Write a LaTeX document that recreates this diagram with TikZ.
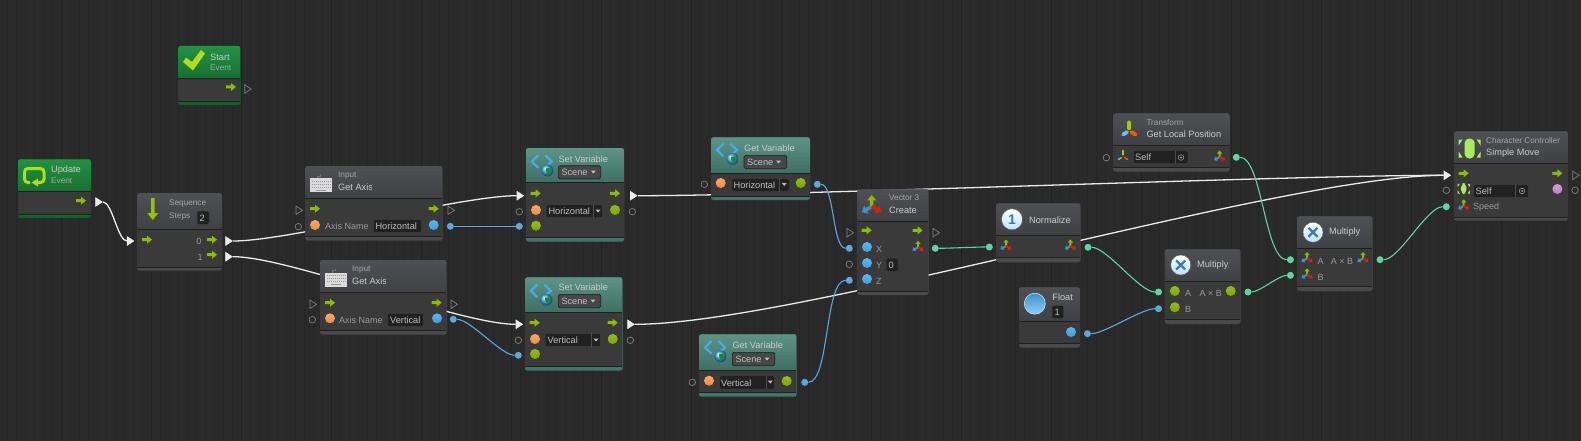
\documentclass[tikz,border=0pt]{standalone}
\usepackage{fontspec}
\setmainfont{Liberation Sans}
\usepackage{xcolor}
\usetikzlibrary{shapes.geometric}

\definecolor{canvasbg}{HTML}{2A2A2A}
\definecolor{gridminor}{HTML}{262626}
\definecolor{gridmajor}{HTML}{212121}
\definecolor{bodybg}{HTML}{3A3A3A}
\definecolor{greytop}{HTML}{4E5054}
\definecolor{greybot}{HTML}{3F4144}
\definecolor{greyfoot}{HTML}{4A4A4A}
\definecolor{greentop}{HTML}{219243}
\definecolor{greenbot}{HTML}{187030}
\definecolor{greenfoot}{HTML}{0C6428}
\definecolor{tealtop}{HTML}{5C9485}
\definecolor{tealbot}{HTML}{3F6F62}
\definecolor{tealfoot}{HTML}{43756A}
\definecolor{flowgreen}{HTML}{8CBC00}
\definecolor{limeicon}{HTML}{B2DC1E}
\definecolor{charlime}{HTML}{A8EC5A}
\definecolor{dotorange}{HTML}{FF9A4D}
\definecolor{dotblue}{HTML}{45ACF0}
\definecolor{dotgreen}{HTML}{86B400}
\definecolor{dotpink}{HTML}{CC8CD8}
\definecolor{wireblue}{HTML}{5AA8DC}
\definecolor{wireteal}{HTML}{5FD3A8}
\definecolor{iconblue}{HTML}{3C78BB}

\tikzset{
    titletxt/.style={anchor=west,inner sep=0pt,text=black!20,font=\fontsize{9.2}{11}\selectfont},
    subtxt/.style={anchor=west,inner sep=0pt,text=black!35,font=\fontsize{8.2}{10}\selectfont},
    porttxt/.style={anchor=west,inner sep=0pt,text=black!40,font=\fontsize{9}{11}\selectfont},
    fieldtxt/.style={anchor=west,inner sep=0pt,text=black!25,font=\fontsize{9.2}{11}\selectfont},
    emptyflow/.style={isosceles triangle,isosceles triangle stretches,draw=black!50,line width=0.7pt,inner sep=0pt,minimum width=8.5pt,minimum height=6.5pt},
    liveflow/.style={emptyflow,draw=black!8,fill=black!8},
    emptyvalue/.style={circle,draw=black!50,line width=0.7pt,inner sep=0pt,minimum size=6.5pt},
    blueport/.style={circle,fill=wireblue,inner sep=0pt,minimum size=7pt},
    tealport/.style={circle,fill=wireteal,inner sep=0pt,minimum size=7pt},
    flowwire/.style={draw=black!8,line width=1.3pt,looseness=0.5},
    bluewire/.style={draw=wireblue,line width=1.1pt,looseness=0.5},
    tealwire/.style={draw=wireteal,line width=1.1pt,looseness=0.5},
    cardbox/.style={rectangle,rounded corners=2.5pt,inner sep=0pt},
    fieldbox/.style={fill=black!87,draw=black!75,line width=0.5pt,rounded corners=1.5pt},
    dropbox/.style={fill=black!72,draw=black!88,line width=0.6pt,rounded corners=1.5pt},
    flowicon/.pic={
        \fill[flowgreen] (-5,-1.5) -- (0,-1.5) -- (0,-4) -- (5,0) -- (0,4) -- (0,1.5) -- (-5,1.5) -- cycle;
    },
    vecicon/.pic={
        \fill[flowgreen] (-1,0) -- (-1,-3.5) -- (-2.6,-3.5) -- (0,-6.5) -- (2.6,-3.5) -- (1,-3.5) -- (1,0) -- cycle;
        \fill[dotblue!85!black,rotate=120] (-1,0) -- (-1,-3.5) -- (-2.6,-3.5) -- (0,-6.5) -- (2.6,-3.5) -- (1,-3.5) -- (1,0) -- cycle;
        \fill[red!70!orange!85!black,rotate=-120] (-1,0) -- (-1,-3.5) -- (-2.6,-3.5) -- (0,-6.5) -- (2.6,-3.5) -- (1,-3.5) -- (1,0) -- cycle;
    },
    pics/axisicon/.style={code={
        \draw[line cap=round,line width=#1,flowgreen!80!yellow] (0,-2.2) -- (0,-8);
        \draw[line cap=round,line width=#1,dotblue!80!white] (-2.2,1.6) -- (-6.2,4);
        \draw[line cap=round,line width=#1,orange!70!red] (2.2,1.6) -- (6.2,4);
    }},
    keyicon/.pic={
        \draw[black!55,line width=0.6pt] (-4,-7) -- (-4,-9) -- (-1,-9) -- (-1,-11);
        \fill[black!14] (-11,-7) rectangle (11,7);
        \draw[black!40,line width=1pt,dash pattern=on 1.2pt off 0.8pt] (-9.5,-4) -- (9.5,-4);
        \draw[black!40,line width=1pt,dash pattern=on 1.2pt off 0.8pt] (-9.5,-1) -- (9.5,-1);
        \draw[black!40,line width=1pt,dash pattern=on 1.2pt off 0.8pt] (-9.5,2) -- (9.5,2);
        \draw[black!40,line width=1pt] (-5,5) -- (5,5);
    },
    varicon/.pic={
        \draw[dotblue,line width=2.2pt] (-3.5,-6.3) -- (-10,0) -- (-3.5,6.3);
        \draw[dotblue,line width=2.2pt] (3.5,-6.3) -- (10,0) -- (3.5,6.3);
        \shade[ball color=dotblue] (5.5,9) circle (6pt);
        \fill[green!60!black] (4,7) -- (7.5,6.5) -- (8.5,9.5) -- (6,12) -- (4.5,10) -- cycle;
    },
    charicon/.pic={
        \fill[charlime,rounded corners=4.5pt] (-5,-10) rectangle (5,10);
        \fill[charlime] (-11,-9) -- (-7,-9) -- (-11,-3) -- cycle;
        \fill[charlime] (11,-9) -- (7,-9) -- (11,-3) -- cycle;
        \fill[charlime] (-11,9) -- (-7,9) -- (-11,3) -- cycle;
        \fill[charlime] (11,9) -- (7,9) -- (11,3) -- cycle;
    },
    targeticon/.pic={
        \draw[black!35,line width=0.5pt] (0,0) circle (2.8pt);
        \fill[black!35] (0,0) circle (1pt);
    }
}

\begin{document}
\begin{tikzpicture}[x=1pt,y=-1pt]
    \newcommand{\unitcard}[8]{
        \node[cardbox,fill=#8foot,minimum width={(#4-#2)*1pt},minimum height={(#5-#3)*1pt}] (#1) at ({(#2+#4)/2},{(#3+#5)/2}) {};
        \begin{scope}
            \clip[rounded corners=2.5pt] (#2,#3) rectangle (#4,#5);
            \shade[top color=#8top,bottom color=#8bot] (#2,#3) rectangle (#4,#6);
            \fill[bodybg] (#2,#6) rectangle (#4,#7);
            \draw[black!88,line width=0.9pt] (#2,#6) -- (#4,#6);
            \draw[black!88,line width=0.7pt] (#2,#7) -- (#4,#7);
        \end{scope}
    }
    \newcommand{\lab}[5]{\node[#1] (#2) at (#3,#4) {#5};}
    \newcommand{\cliplab}[6]{
        \begin{scope}
            \clip (#3,#4-8) rectangle (#5,#4+8);
            \node[#1] (#2) at (#3,#4) {#6};
        \end{scope}
    }
    \newcommand{\portdot}[3]{\shade[top color=#3!88!white,bottom color=#3!92!black] (#1,#2) circle (5pt);}
    \newcommand{\droparrow}[2]{\fill[black!25] (#1-2.5,#2-1.5) -- (#1+2.5,#2-1.5) -- (#1,#2+1.5) -- cycle;}
    \newcommand{\roundicon}[3]{\shade[top color=white,bottom color=dotblue!35!white,draw=black!60,line width=0.4pt] (#1,#2) circle (#3pt);}

    % canvas and grid
    \useasboundingbox (0,0) rectangle (1581,441);
    \fill[canvasbg] (0,0) rectangle (1581,441);
    \begin{scope}
        \clip (0,0) rectangle (1581,441);
        \begin{scope}[shift={(7.5,1)}]
            \draw[gridminor,line width=0.7pt,step=9] (-9,-9) grid (1590,450);
        \end{scope}
        \begin{scope}[shift={(61.5,64)}]
            \draw[gridmajor,line width=0.7pt,step=90] (-90,-90) grid (1620,450);
        \end{scope}
    \end{scope}

    % ports outside the cards
    \node[emptyflow] (startout) at (247,89) {};
    \node[liveflow] (updateout) at (98,202) {};
    \node[liveflow] (seqin) at (129.5,241) {};
    \node[liveflow] (seqzero) at (228,241) {};
    \node[liveflow] (seqone) at (228,256.7) {};
    \node[emptyflow] (axishin) at (298.3,210.3) {};
    \node[emptyflow] (axishout) at (450.3,210.3) {};
    \node[emptyvalue] (axishname) at (298.3,226.7) {};
    \node[blueport] (axishval) at (450.3,226.3) {};
    \node[emptyflow] (axisvin) at (312.3,304.3) {};
    \node[emptyflow] (axisvout) at (453.3,304.3) {};
    \node[emptyvalue] (axisvname) at (312.3,319.7) {};
    \node[blueport] (axisvval) at (453.3,319.3) {};
    \node[liveflow] (sethin) at (519.3,195.7) {};
    \node[liveflow] (sethout) at (632.7,195.7) {};
    \node[emptyvalue] (sethname) at (519.3,211.7) {};
    \node[emptyvalue] (sethres) at (632.3,211.7) {};
    \node[blueport] (sethval) at (519.3,226.3) {};
    \node[liveflow] (setvin) at (518.3,324.3) {};
    \node[liveflow] (setvout) at (630,324.3) {};
    \node[emptyvalue] (setvname) at (518.3,340.3) {};
    \node[emptyvalue] (setvres) at (630.3,340.3) {};
    \node[blueport] (setvval) at (518.3,355.3) {};
    \node[emptyvalue] (gethname) at (704.3,184.3) {};
    \node[blueport] (gethval) at (817.3,184.3) {};
    \node[emptyvalue] (getvname) at (692.3,382.3) {};
    \node[blueport] (getvval) at (804.7,382.3) {};
    \node[emptyflow] (vecin) at (849.3,232.7) {};
    \node[emptyflow] (vecout) at (935.3,232.7) {};
    \node[blueport] (vecx) at (849.3,248.3) {};
    \node[emptyvalue] (vecy) at (849.3,264.3) {};
    \node[blueport] (vecz) at (849.3,280.3) {};
    \node[tealport] (vecres) at (935.3,248.3) {};
    \node[tealport] (normin) at (989.3,247) {};
    \node[tealport] (normout) at (1088,247.3) {};
    \node[blueport] (floatval) at (1087.4,333.7) {};
    \node[tealport] (mulonea) at (1158.5,292) {};
    \node[blueport] (muloneb) at (1158.5,308.7) {};
    \node[tealport] (muloneout) at (1248,292) {};
    \node[tealport] (multwoa) at (1290.4,259.7) {};
    \node[tealport] (multwob) at (1290.4,275.3) {};
    \node[tealport] (multwoout) at (1380,259.7) {};
    \node[emptyvalue] (transself) at (1106.3,157.7) {};
    \node[tealport] (transval) at (1236.3,157.3) {};
    \node[liveflow] (movein) at (1446.3,175.3) {};
    \node[emptyflow] (moveout) at (1575,175.3) {};
    \node[emptyvalue] (moveself) at (1446.3,190.3) {};
    \node[emptyvalue] (moveres) at (1575,190.3) {};
    \node[tealport] (movespeed) at (1446.3,206.7) {};

    % connectors, behind the cards
    \draw[flowwire] (updateout) to[out=0,in=180] (seqin);
    \draw[flowwire] (seqzero) to[out=0,in=180] (sethin);
    \draw[flowwire] (seqone) to[out=0,in=180] (setvin);
    \draw[flowwire] (sethout) to[out=0,in=180] (movein);
    \draw[flowwire] (setvout) to[out=0,in=180] (movein);
    \draw[bluewire] (axishval) to[out=0,in=180] (sethval);
    \draw[bluewire] (axisvval) to[out=0,in=180] (setvval);
    \draw[bluewire] (gethval) to[out=0,in=180] (vecx);
    \draw[bluewire] (getvval) to[out=0,in=180] (vecz);
    \draw[bluewire] (floatval) to[out=0,in=180] (muloneb);
    \draw[tealwire] (vecres) to[out=0,in=180] (normin);
    \draw[tealwire] (normout) to[out=0,in=180] (mulonea);
    \draw[tealwire] (muloneout) to[out=0,in=180] (multwob);
    \draw[tealwire] (transval) to[out=0,in=180] (multwoa);
    \draw[tealwire] (multwoout) to[out=0,in=180] (movespeed);

    % Start
    \unitcard{startcard}{178}{46}{240.7}{105}{78}{101}{green}
    \fill[limeicon] (183,62) -- (193,70.5) -- (205,53.5) -- (201,50) -- (192,62) -- (186,57.5) -- cycle;
    \lab{titletxt}{starttitle}{210}{57}{Start}
    \cliplab{subtxt}{startsub}{210}{68}{231}{Event}
    \pic at (231,87) {flowicon};

    % Update
    \unitcard{updatecard}{18}{159.3}{91}{218}{191.3}{214}{green}
    \draw[limeicon,line width=3pt,rounded corners=3.5pt] (30,182.5) -- (24.5,182.5) -- (24.5,168.5) -- (44,168.5) -- (44,182.5) -- (37,182.5);
    \fill[limeicon] (38,178.5) -- (31.5,182.5) -- (38,186.5) -- cycle;
    \lab{titletxt}{updatetitle}{51}{170}{Update}
    \lab{subtxt}{updatesub}{51}{181}{Event}
    \pic at (81,200.7) {flowicon};

    % Sequence
    \unitcard{seqcard}{137}{193}{222}{270.7}{229}{267}{grey}
    \fill[flowgreen!90!yellow] (151,198) -- (154.5,198) -- (154.5,213) -- (158.3,213) -- (152.7,220) -- (147.2,213) -- (151,213) -- cycle;
    \lab{subtxt}{seqtitle}{169}{203.7}{Sequence}
    \lab{subtxt}{seqsteps}{169}{216.7}{Steps}
    \fill[fieldbox] (197,211) rectangle (209,224.7);
    \lab{fieldtxt}{seqcount}{199.5}{218.3}{2}
    \pic at (147,239.7) {flowicon};
    \lab{porttxt}{seqlabzero}{196.2}{241.7}{0}
    \pic at (212,239.7) {flowicon};
    \lab{porttxt}{seqlabone}{197.5}{257.7}{1}
    \pic at (212,254.7) {flowicon};

    % Get Axis, Horizontal
    \unitcard{axishcard}{305.3}{166}{442.7}{240.7}{198}{236.7}{grey}
    \pic at (321,185) {keyicon};
    \lab{subtxt}{axishsub}{338}{175.7}{Input}
    \cliplab{titletxt}{axishtitle}{338}{187.7}{371}{Get Axis}
    \pic at (315,208.7) {flowicon};
    \pic at (433.7,208.7) {flowicon};
    \portdot{315}{225}{dotorange}
    \cliplab{porttxt}{axishlab}{325}{226.7}{369}{Axis Name}
    \fill[fieldbox] (373.3,219.3) rectangle (421.7,232.7);
    \lab{fieldtxt}{axishfield}{375.3}{226.5}{Horizontal}
    \portdot{433.7}{225}{dotblue}

    % Get Axis, Vertical
    \unitcard{axisvcard}{320}{260}{446.7}{334.7}{292.7}{330}{grey}
    \pic at (336,279.5) {keyicon};
    \lab{subtxt}{axisvsub}{352}{269.3}{Input}
    \cliplab{titletxt}{axisvtitle}{352}{281.7}{385}{Get Axis}
    \pic at (330,302.7) {flowicon};
    \pic at (436.7,302.7) {flowicon};
    \portdot{330}{318.3}{dotorange}
    \cliplab{porttxt}{axisvlab}{339}{320.5}{383}{Axis Name}
    \fill[fieldbox] (387.3,313.3) rectangle (423.7,326.7);
    \lab{fieldtxt}{axisvfield}{390}{320.5}{Vertical}
    \portdot{437}{318.3}{dotblue}

    % Set Variable, Horizontal
    \unitcard{sethcard}{526}{148}{624}{241.7}{182.7}{237.3}{teal}
    \pic at (541.8,161.5) {varicon};
    \lab{titletxt}{sethtitle}{558.3}{159}{Set Variable}
    \fill[dropbox] (558.3,165.7) rectangle (600.7,178.7);
    \lab{fieldtxt}{sethscene}{561.3}{172.2}{Scene}
    \droparrow{593.3}{172}
    \pic at (535.7,193.3) {flowicon};
    \pic at (615,193.3) {flowicon};
    \portdot{536}{210}{dotorange}
    \fill[fieldbox] (546,204.7) rectangle (602.7,217.7);
    \draw[black!70,line width=0.5pt] (593.7,204.7) -- (593.7,217.7);
    \lab{fieldtxt}{sethfield}{548.3}{211.5}{Horizontal}
    \droparrow{598}{211}
    \portdot{615}{210}{dotgreen}
    \portdot{536}{225.7}{dotgreen}

    % Set Variable, Vertical
    \unitcard{setvcard}{525}{277.3}{622.7}{370.7}{312.3}{366.7}{teal}
    \pic at (540.8,290.8) {varicon};
    \lab{titletxt}{setvtitle}{558.3}{287.7}{Set Variable}
    \fill[dropbox] (558.3,294.3) rectangle (600.7,307.7);
    \lab{fieldtxt}{setvscene}{561.3}{301}{Scene}
    \droparrow{593}{301}
    \pic at (534.7,322.7) {flowicon};
    \pic at (612.7,322.7) {flowicon};
    \portdot{535}{339}{dotorange}
    \fill[fieldbox] (545,333.3) rectangle (600.7,346.7);
    \draw[black!70,line width=0.5pt] (591.7,333.3) -- (591.7,346.7);
    \lab{fieldtxt}{setvfield}{547.5}{340.5}{Vertical}
    \droparrow{596}{340}
    \portdot{612.7}{339}{dotgreen}
    \portdot{535}{354}{dotgreen}

    % Get Variable, Horizontal
    \unitcard{gethcard}{711}{137.3}{810}{200}{173.3}{196}{teal}
    \pic at (727,150) {varicon};
    \lab{titletxt}{gethtitle}{744}{148}{Get Variable}
    \fill[dropbox] (744,155.3) rectangle (786.7,168.7);
    \lab{fieldtxt}{gethscene}{747}{162}{Scene}
    \droparrow{778.5}{162}
    \portdot{720.7}{183}{dotorange}
    \fill[fieldbox] (731.7,178.3) rectangle (789,191.7);
    \draw[black!70,line width=0.5pt] (779.3,178.3) -- (779.3,191.7);
    \lab{fieldtxt}{gethfield}{733.5}{185.5}{Horizontal}
    \droparrow{784.2}{184.5}
    \portdot{800.7}{183}{dotgreen}

    % Get Variable, Vertical
    \unitcard{getvcard}{699}{334.3}{796.7}{396.7}{370}{392.7}{teal}
    \pic at (715,347.3) {varicon};
    \lab{titletxt}{getvtitle}{732.3}{345}{Get Variable}
    \fill[dropbox] (732.3,352.3) rectangle (774.7,365.7);
    \lab{fieldtxt}{getvscene}{735.3}{359}{Scene}
    \droparrow{767}{359}
    \portdot{709}{380.7}{dotorange}
    \fill[fieldbox] (719.3,375.7) rectangle (774.7,389);
    \draw[black!70,line width=0.5pt] (766,375.7) -- (766,389);
    \lab{fieldtxt}{getvfield}{721}{383}{Vertical}
    \droparrow{770.3}{382}
    \portdot{786.7}{381}{dotgreen}

    % Vector 3
    \unitcard{veccard}{857.3}{189.3}{928.7}{295}{221.7}{291.7}{grey}
    \pic[scale=1.75] at (871.7,206.5) {vecicon};
    \cliplab{subtxt}{vecsub}{889}{198}{920}{Vector 3}
    \lab{titletxt}{vectitle}{889}{210.7}{Create}
    \pic at (866.7,230.3) {flowicon};
    \pic at (917.7,230.3) {flowicon};
    \portdot{867}{247}{dotblue}
    \lab{porttxt}{veclabx}{876}{249.3}{X}
    \portdot{867}{263}{dotblue}
    \lab{porttxt}{veclaby}{876}{265.5}{Y}
    \fill[fieldbox] (886,258) rectangle (898,271.7);
    \lab{fieldtxt}{vecfield}{888.5}{265}{0}
    \portdot{867}{279}{dotblue}
    \lab{porttxt}{veclabz}{876}{281}{Z}
    \pic at (918,247.3) {vecicon};

    % Normalize
    \unitcard{normcard}{996}{203.3}{1080.7}{262.3}{235}{257.7}{grey}
    \roundicon{1012}{219.3}{10.5}
    \node[inner sep=0pt,text=iconblue,font=\bfseries\fontsize{14}{14}\selectfont] (normone) at (1012,219.3) {1};
    \lab{titletxt}{normtitle}{1029}{220}{Normalize}
    \pic at (1006,246) {vecicon};
    \pic at (1070.4,246) {vecicon};

    % Float
    \unitcard{floatcard}{1019}{287.3}{1080}{347.7}{321}{343.3}{grey}
    \shade[top color=dotblue!85!black,bottom color=dotblue!60!white,draw=dotblue!35!white,line width=0.6pt] (1034.8,303.7) circle (10.5pt);
    \lab{titletxt}{floattitle}{1052.2}{297.7}{Float}
    \fill[fieldbox] (1052,305.3) rectangle (1063.7,318.7);
    \lab{fieldtxt}{floatfield}{1054.5}{312}{1}
    \portdot{1071}{332}{dotblue}

    % Multiply, scalar
    \unitcard{mulonecard}{1164.8}{249.3}{1240.7}{324}{281.7}{319.3}{grey}
    \roundicon{1180.7}{265}{10}
    \draw[iconblue,line width=2.3pt] (1176.2,260.5) -- (1185.2,269.5) (1176.2,269.5) -- (1185.2,260.5);
    \lab{titletxt}{mulonetitle}{1197}{265}{Multiply}
    \portdot{1174.8}{291}{dotgreen}
    \lab{porttxt}{muloneaa}{1184.8}{293}{A}
    \lab{porttxt}{mulonelab}{1199.3}{293}{A × B}
    \portdot{1230.7}{291}{dotgreen}
    \portdot{1174.8}{307.3}{dotgreen}
    \lab{porttxt}{mulonebb}{1184.8}{309.7}{B}

    % Multiply, vector
    \unitcard{multwocard}{1297}{216.3}{1372.6}{291}{248.3}{286.7}{grey}
    \roundicon{1313}{232.3}{10}
    \draw[iconblue,line width=2.3pt] (1308.5,227.8) -- (1317.5,236.8) (1308.5,236.8) -- (1317.5,227.8);
    \lab{titletxt}{multwotitle}{1328.9}{232}{Multiply}
    \pic at (1307,258.5) {vecicon};
    \lab{porttxt}{multwoaa}{1317.4}{261}{A}
    \lab{porttxt}{multwolab}{1330.7}{261}{A × B}
    \pic at (1363,258.5) {vecicon};
    \pic at (1307,274.8) {vecicon};
    \lab{porttxt}{multwobb}{1317.4}{277}{B}

    % Transform
    \unitcard{transcard}{1113}{113.3}{1229.6}{171.7}{145.3}{167.7}{grey}
    \pic at (1129.3,130.5) {axisicon=3.8pt};
    \lab{subtxt}{transsub}{1146.3}{122.3}{Transform}
    \lab{titletxt}{transtitle}{1146.3}{134.7}{Get Local Position}
    \pic[scale=0.75] at (1123,156.5) {axisicon=1.4pt};
    \fill[fieldbox] (1133.3,150.7) rectangle (1188,163.7);
    \draw[black!70,line width=0.5pt] (1174.8,150.7) -- (1174.8,163.7);
    \lab{fieldtxt}{transfield}{1135}{157.7}{Self}
    \pic at (1181,157.5) {targeticon};
    \pic at (1219.6,157) {vecicon};

    % Simple Move
    \unitcard{movecard}{1454}{131.3}{1567.8}{220.7}{163.3}{217.3}{grey}
    \pic at (1469.6,148.5) {charicon};
    \cliplab{subtxt}{movesub}{1486}{140.3}{1559}{Character Controller}
    \lab{titletxt}{movetitle}{1486}{152.7}{Simple Move}
    \pic at (1463.7,173.3) {flowicon};
    \pic at (1557.4,173.3) {flowicon};
    \pic[scale=0.55] at (1463.7,188.7) {charicon};
    \fill[fieldbox] (1473.3,184.7) rectangle (1528.5,197.7);
    \draw[black!70,line width=0.5pt] (1515.5,184.7) -- (1515.5,197.7);
    \lab{fieldtxt}{movefield}{1475.5}{191.5}{Self}
    \pic at (1522,191) {targeticon};
    \portdot{1557.4}{189}{dotpink}
    \pic at (1463.7,205.8) {vecicon};
    \lab{porttxt}{movelab}{1473}{207.5}{Speed}
\end{tikzpicture}
\end{document}
